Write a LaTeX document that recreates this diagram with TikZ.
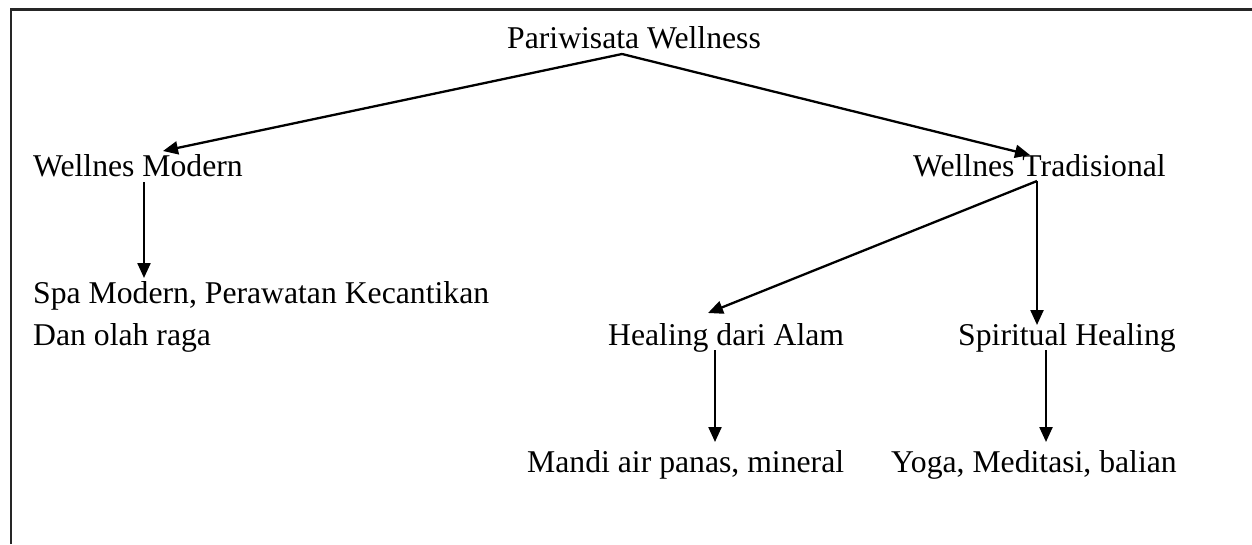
\documentclass[tikz,border=0pt]{standalone}
\usepackage{fontspec}
\setmainfont{Liberation Serif}
\usetikzlibrary{arrows.meta}
\begin{document}
\begin{tikzpicture}[x=1pt,y=-1pt,
  lbl/.style={anchor=base west,inner sep=0pt,font=\fontsize{31.7}{42}\selectfont},
  arr/.style={line width=2.3pt,-{Triangle[length=15pt,width=13pt]}},
  frame/.style={line width=2.2pt,draw=black!85}]
\useasboundingbox (0,0) rectangle (1252,544);
\draw[frame] (11,544) -- (11,9.5) -- (1252,9.5);
% texts
\node[lbl] (pw) at (507,48) {Pariwisata Wellness};
\node[lbl] (wm) at (33,176) {Wellnes Modern};
\node[lbl] (wt) at (913,176) {Wellnes Tradisional};
\node[lbl] (spa) at (33,303) {Spa Modern, Perawatan Kecantikan};
\node[lbl] (spa2) at (33,345) {Dan olah raga};
\node[lbl] (hda) at (608,345) {Healing dari Alam};
\node[lbl] (sh) at (958,345) {Spiritual Healing};
\node[lbl] (mandi) at (527,472) {Mandi air panas, mineral};
\node[lbl] (yoga) at (891,472) {Yoga, Meditasi, balian};
% connector ends
\coordinate (pwS) at (622,54);
\coordinate (wmT) at (163,151);
\coordinate (wtT) at (1030,155);
\coordinate (wmS) at (144,182);
\coordinate (spaT) at (144,278);
\coordinate (wtS) at (1037,181);
\coordinate (hdaT) at (708,313);
\coordinate (shT) at (1037,325);
\coordinate (hdaS) at (715,350);
\coordinate (mandiT) at (715,442);
\coordinate (shS) at (1046,350);
\coordinate (yogaT) at (1046,442);
% connectors
\draw[arr] (pwS) -- (wmT);
\draw[arr] (pwS) -- (wtT);
\draw[arr] (wmS) -- (spaT);
\draw[arr] (wtS) -- (hdaT);
\draw[arr] (wtS) -- (shT);
\draw[arr] (hdaS) -- (mandiT);
\draw[arr] (shS) -- (yogaT);
\end{tikzpicture}
\end{document}
